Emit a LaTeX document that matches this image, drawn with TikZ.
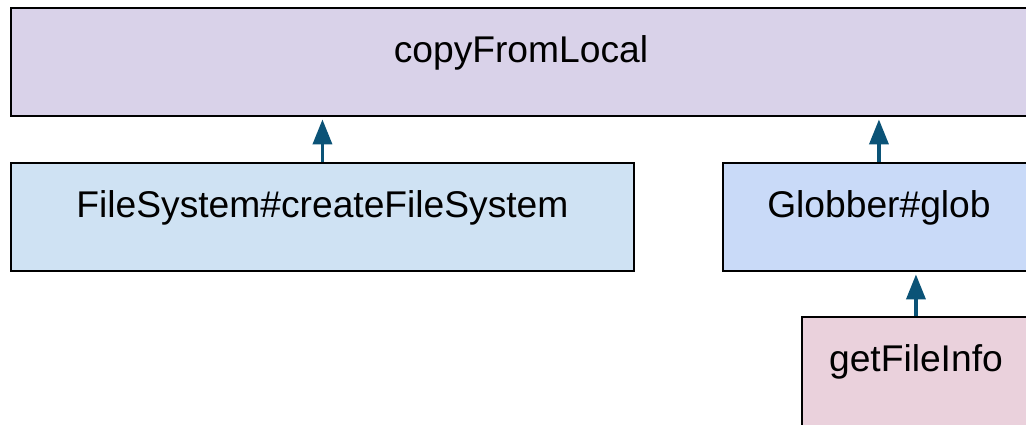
\documentclass[tikz,border=0pt]{standalone}
\usepackage{fontspec}
\setmainfont{Liberation Sans}
\usetikzlibrary{arrows.meta}
\definecolor{boxTop}{HTML}{D9D2E9}
\definecolor{boxFs}{HTML}{CFE2F3}
\definecolor{boxGlob}{HTML}{C9DAF8}
\definecolor{boxInfo}{HTML}{EAD1DC}
\definecolor{connCol}{HTML}{0B5377}
\tikzset{
  callbox/.style={draw=black, line width=1.9pt, rectangle, anchor=north west,
    inner sep=0pt, text height=55pt, text depth=53pt,
    font=\fontsize{37.2}{44}\selectfont},
  conn/.style={draw=connCol, line width=3.6pt,
    -{Triangle[width=19pt,length=25pt]}, shorten >=2.5pt}
}
\begin{document}
\begin{tikzpicture}[x=1pt,y=-1pt]
  \useasboundingbox (0,0) rectangle (1026,425);
  \clip (0,0) rectangle (1026,425);
  \fill[white] (0,0) rectangle (1026,425);
  \node[callbox, fill=boxTop, minimum width=1020pt] (top) at (10,7) {copyFromLocal};
  \node[callbox, fill=boxFs, minimum width=623pt] (fs) at (10,162) {FileSystem\#createFileSystem};
  \node[callbox, fill=boxGlob, minimum width=312pt] (glob) at (722,162) {Globber\#glob};
  \node[callbox, fill=boxInfo, minimum width=228pt, text depth=60pt] (info) at (801,316) {getFileInfo};
  \draw[conn] (fs.north) -- (fs.north |- top.south);
  \draw[conn] (glob.north) -- (glob.north |- top.south);
  \draw[conn] (info.north) -- (info.north |- glob.south);
\end{tikzpicture}
\end{document}
